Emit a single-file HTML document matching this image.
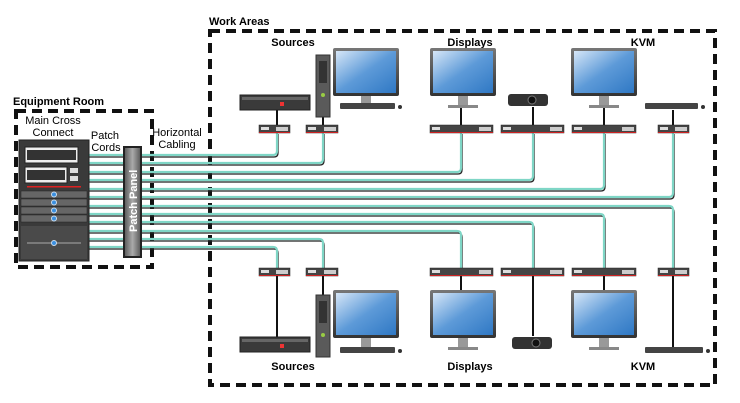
<!DOCTYPE html>
<html><head><style>
html,body{margin:0;padding:0;background:#fff;}
svg{display:block;font-family:"Liberation Sans",Arial,sans-serif;}
</style></head><body>
<svg id="s" width="740" height="403" viewBox="0 0 740 403" xmlns="http://www.w3.org/2000/svg">
<defs>
<linearGradient id="scr" x1="0" y1="0" x2="1" y2="1"><stop offset="0" stop-color="#d6e6f7"/><stop offset="0.5" stop-color="#5d9ad8"/><stop offset="1" stop-color="#2f78c4"/></linearGradient>
<linearGradient id="frm" x1="0" y1="0" x2="0" y2="1"><stop offset="0" stop-color="#777"/><stop offset="1" stop-color="#333"/></linearGradient>
<linearGradient id="pp" x1="0" y1="0" x2="1" y2="0"><stop offset="0" stop-color="#555"/><stop offset="0.5" stop-color="#aaa"/><stop offset="1" stop-color="#555"/></linearGradient>
</defs>
<!-- boxes -->
<rect x="210" y="31" width="505" height="354" fill="none" stroke="#111" stroke-width="4" stroke-dasharray="10,6"/>
<rect x="16" y="111" width="136" height="156" fill="none" stroke="#111" stroke-width="4" stroke-dasharray="10,6"/>
<text x="209" y="25" font-size="11" font-weight="bold">Work Areas</text>
<text x="13" y="105" font-size="11" font-weight="bold">Equipment Room</text>
<text x="53" y="124" font-size="11" text-anchor="middle">Main Cross</text>
<text x="53" y="136" font-size="11" text-anchor="middle">Connect</text>
<text x="105" y="139" font-size="11" text-anchor="middle">Patch</text>
<text x="106" y="151" font-size="11" text-anchor="middle">Cords</text>
<text x="177" y="136" font-size="11" text-anchor="middle">Horizontal</text>
<text x="177" y="148" font-size="11" text-anchor="middle">Cabling</text>
<text x="293" y="46" font-size="11" font-weight="bold" text-anchor="middle">Sources</text>
<text x="470" y="46" font-size="11" font-weight="bold" text-anchor="middle">Displays</text>
<text x="643" y="46" font-size="11" font-weight="bold" text-anchor="middle">KVM</text>
<text x="293" y="370" font-size="11" font-weight="bold" text-anchor="middle">Sources</text>
<text x="470" y="370" font-size="11" font-weight="bold" text-anchor="middle">Displays</text>
<text x="643" y="370" font-size="11" font-weight="bold" text-anchor="middle">KVM</text>
<g id="cab"></g>
<!-- rack -->
<rect x="19" y="140" width="70" height="121" fill="#3a3a3a" stroke="#222"/>
<rect x="25" y="147" width="53" height="16" fill="#eee" stroke="#222"/>
<rect x="27" y="150" width="49" height="10" fill="#333"/>
<rect x="25" y="167" width="42" height="16" fill="#eee" stroke="#222"/>
<rect x="27" y="170" width="38" height="10" fill="#333"/>
<rect x="70" y="168" width="8" height="5" fill="#ddd"/><rect x="70" y="176" width="8" height="5" fill="#ddd"/>
<rect x="27" y="186" width="54" height="1.5" fill="#d22"/>
<g fill="#666" stroke="#222" stroke-width="0.5">
<rect x="21" y="191" width="66" height="7"/><rect x="21" y="199" width="66" height="7"/><rect x="21" y="207" width="66" height="7"/><rect x="21" y="215" width="66" height="7"/>
</g>
<rect x="21" y="226" width="66" height="33" fill="#4a4a4a"/>
<line x1="27" y1="243" x2="81" y2="243" stroke="#aaa"/>
<g fill="#3a8fe0" stroke="#cde" stroke-width="1"><circle cx="54" cy="194.5" r="2.5"/><circle cx="54" cy="202.5" r="2.5"/><circle cx="54" cy="210.5" r="2.5"/><circle cx="54" cy="218.5" r="2.5"/><circle cx="54" cy="243" r="2.5"/></g>
<!-- patch panel -->
<rect x="124" y="147" width="17" height="110" fill="url(#pp)" stroke="#222" stroke-width="2"/>
<text transform="translate(137,232) rotate(-90)" font-size="11" font-weight="bold" fill="#fff">Patch Panel</text>
<g id="dev"></g>
</svg>
<script>
var ns="http://www.w3.org/2000/svg",cab=document.getElementById('cab'),dev=document.getElementById('dev');
function el(p,t,a){var e=document.createElementNS(ns,t);for(var k in a)e.setAttribute(k,a[k]);p.appendChild(e);return e;}
var C=[[155,277,1],[163,323,1],[172,461,1],[180,533,1],[189,604,1],[197,673,1],[206,673,0],[214,604,0],[222,533,0],[231,461,0],[239,323,0],[247,277,0]];
C.forEach(function(c){var y=c[0],x=c[1],up=c[2];var d;
 if(up)d="M88 "+y+" H"+(x-4)+" Q"+x+" "+y+" "+x+" "+(y-4)+" V132";
 else d="M88 "+y+" H"+(x-4)+" Q"+x+" "+y+" "+x+" "+(y+4)+" V270";
 el(cab,'path',{d:d,fill:'none',stroke:'#222','stroke-width':1.3,transform:'translate(1,2)'});
 el(cab,'path',{d:d,fill:'none',stroke:'#7fd6c6','stroke-width':2.2});
});
// black connector lines device-to-box
function vl(x,y1,y2){el(dev,'line',{x1:x,y1:y1,x2:x,y2:y2,stroke:'#111','stroke-width':2});}
function box(x,y,w){el(dev,'rect',{x:x,y:y,width:w,height:8,fill:'#444',stroke:'#222','stroke-width':0.5});el(dev,'rect',{x:x+2,y:y+2,width:8,height:3,fill:'#ddd'});el(dev,'rect',{x:x+w-14,y:y+2,width:12,height:4,fill:'#ccc'});el(dev,'rect',{x:x,y:y+7,width:w,height:1,fill:'#c22'});}
function mon(x,y){el(dev,'rect',{x:x,y:y,width:66,height:48,fill:'url(#frm)',rx:2});el(dev,'rect',{x:x+3,y:y+3,width:60,height:42,fill:'url(#scr)'});el(dev,'rect',{x:x+28,y:y+48,width:10,height:10,fill:'#999'});el(dev,'rect',{x:x+18,y:y+57,width:30,height:3,fill:'#888'});}
function kb(x,y,w){el(dev,'rect',{x:x,y:y,width:w,height:6,fill:'#444',rx:1});el(dev,'circle',{cx:x+w+5,cy:y+4,r:2,fill:'#333'});}
function src(x,y){el(dev,'rect',{x:x,y:y,width:70,height:15,fill:'#3a3a3a',stroke:'#222'});el(dev,'rect',{x:x+2,y:y+2,width:66,height:3,fill:'#666'});el(dev,'rect',{x:x+40,y:y+7,width:4,height:4,fill:'#e33'});}
function tower(x,y){el(dev,'rect',{x:x,y:y,width:14,height:62,fill:'#5a5a5a',stroke:'#333'});el(dev,'rect',{x:x+3,y:y+6,width:8,height:22,fill:'#333'});el(dev,'circle',{cx:x+7,cy:y+40,r:2,fill:'#9c4'});}
function proj(x,y){el(dev,'rect',{x:x,y:y,width:40,height:12,fill:'#333',rx:3});el(dev,'circle',{cx:x+24,cy:y+6,r:4,fill:'#111',stroke:'#777'});}
// top
vl(277,110,126);vl(323,117,126);vl(461,108,126);vl(533,107,126);vl(604,108,126);vl(673,110,126);
src(240,95);tower(316,55);mon(333,48);kb(340,103,55);mon(430,48);proj(508,94);mon(571,48);kb(645,103,53);
box(259,125,31);box(306,125,32);box(430,125,63);box(501,125,63);box(572,125,64);box(658,125,31);
// bottom
vl(277,276,338);vl(323,276,296);vl(461,276,290);vl(533,276,336);vl(604,276,290);vl(673,276,348);
box(259,268,31);box(306,268,32);box(430,268,63);box(501,268,63);box(572,268,64);box(658,268,31);
src(240,337);tower(316,295);mon(333,290);kb(340,347,55);mon(430,290);proj(512,337);mon(571,290);kb(645,347,58);
</script>
</body></html>
